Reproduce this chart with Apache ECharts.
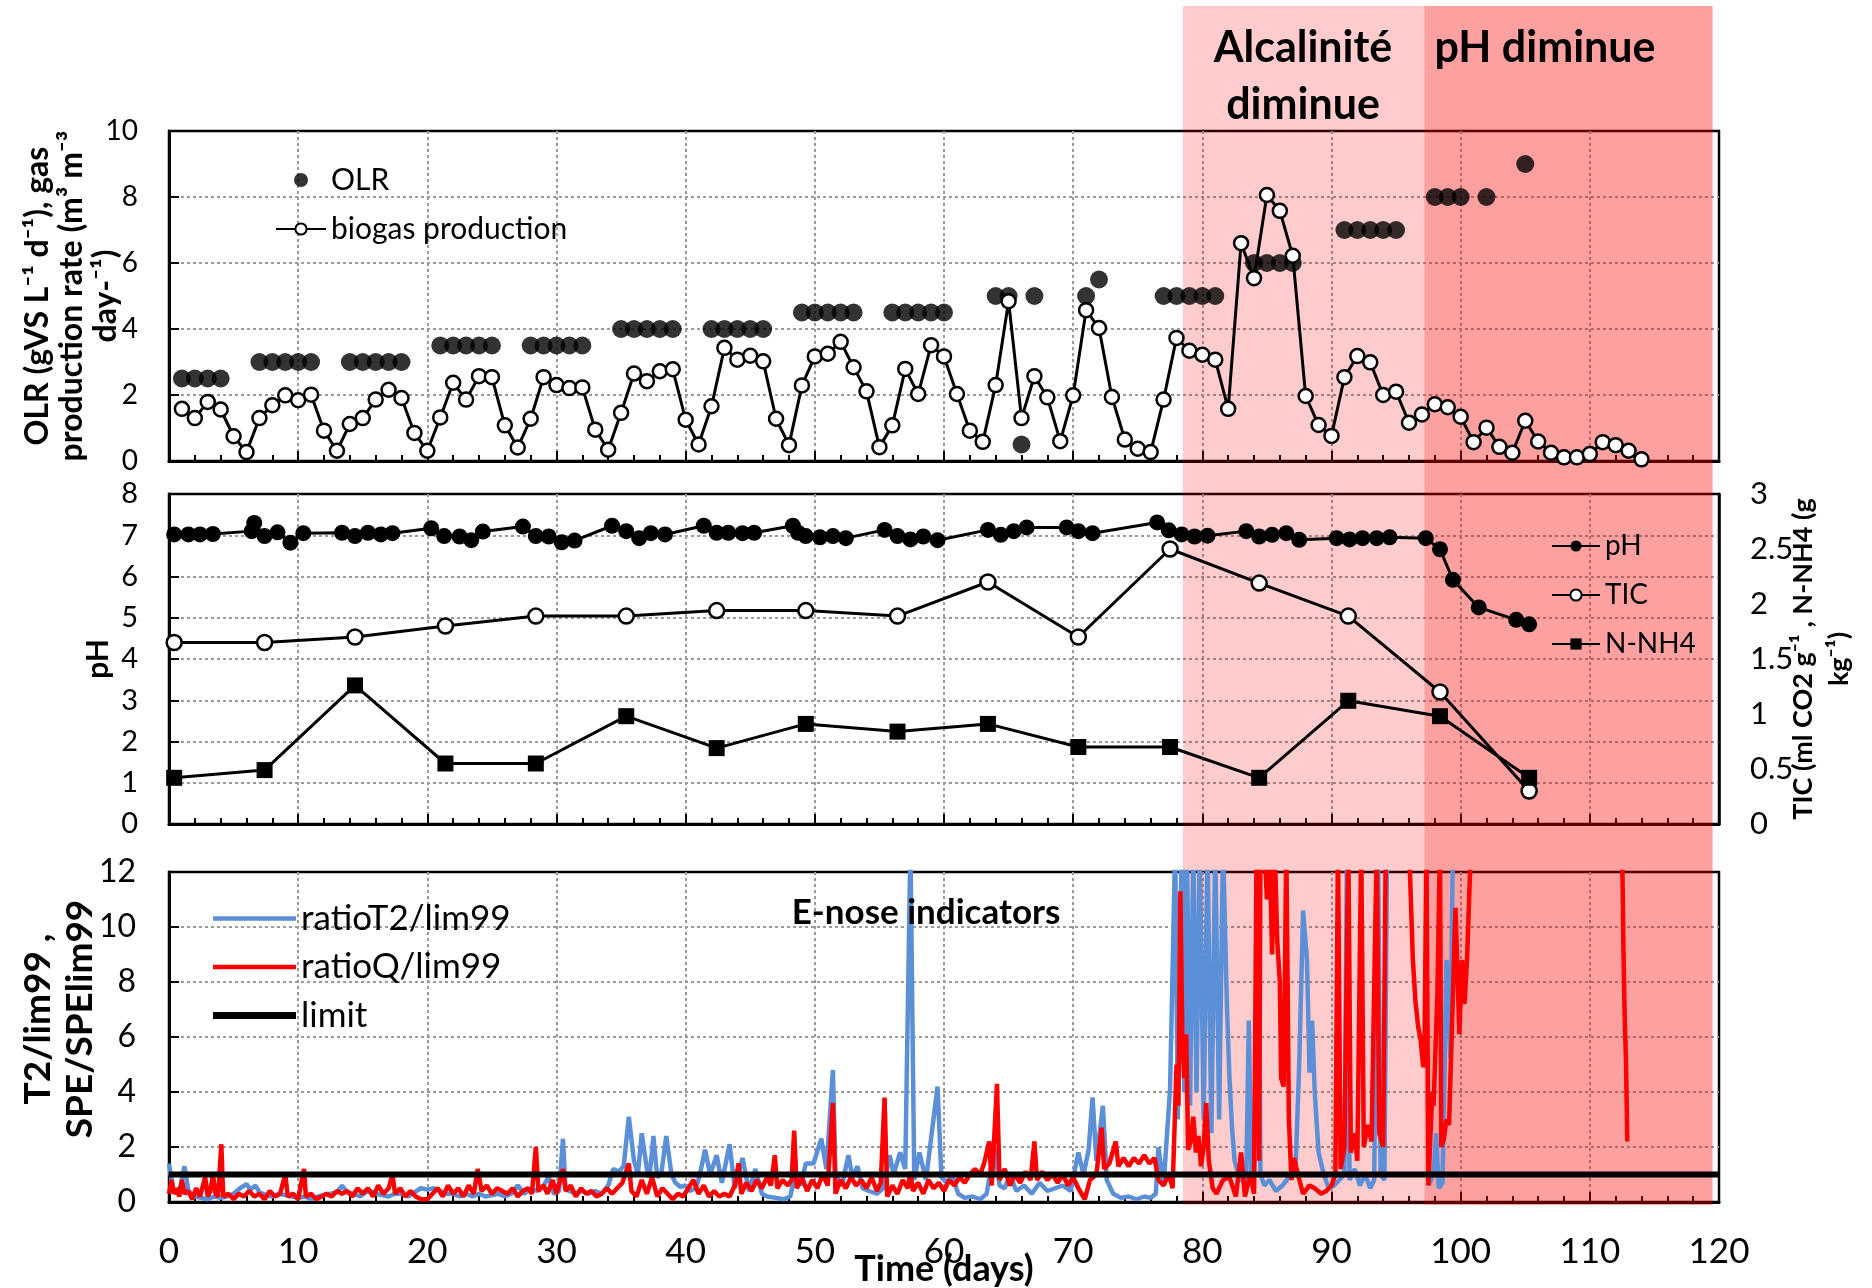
<!DOCTYPE html>
<html><head><meta charset="utf-8">
<script src="https://cdn.jsdelivr.net/npm/echarts/dist/echarts.min.js"></script>
<style>html,body{margin:0;padding:0;background:#fff}#c{width:1872px;height:1288px}</style>
</head><body><div id="c"></div>
<script>
// ---------- DATA ----------
const xTicks = [0,10,20,30,40,50,60,70,80,90,100,110,120];
const phaseBounds = [78.5, 97.2, 119.5]; // alkalinity drop start, pH drop start, end

// Panel 1 : OLR (gVS L-1 d-1)
const olrDays = [1,2,3,4, 7,8,9,10,11, 14,15,16,17,18, 21,22,23,24,25, 28,29,30,31,32,
  35,36,37,38,39, 42,43,44,45,46, 49,50,51,52,53, 56,57,58,59,60, 64,65,66,67, 71,72,
  77,78,79,80,81, 84,85,86,87, 91,92,93,94,95, 98,99,100,102, 105];
const olrValues = [2.5,2.5,2.5,2.5, 3,3,3,3,3, 3,3,3,3,3, 3.5,3.5,3.5,3.5,3.5, 3.5,3.5,3.5,3.5,3.5,
  4,4,4,4,4, 4,4,4,4,4, 4.5,4.5,4.5,4.5,4.5, 4.5,4.5,4.5,4.5,4.5, 5,5,0.5,5, 5,5.5,
  5,5,5,5,5, 6,6,6,6, 7,7,7,7,7, 8,8,8,8, 9];

// Panel 1 : biogas production rate, days 1..114
const biogasDays = Array.from({length:114}, (_, i) => i + 1);
const biogasValues = [1.58,1.30,1.79,1.56,0.75,0.27,1.30,1.69,1.99,1.84,2.01,0.92,0.31,1.12,1.30,1.86,2.16,1.91,0.85,0.31,
  1.32,2.37,1.86,2.57,2.54,1.08,0.41,1.28,2.54,2.30,2.21,2.23,0.95,0.34,1.46,2.65,2.42,2.72,2.78,1.25,
  0.50,1.66,3.43,3.07,3.19,3.02,1.28,0.48,2.29,3.17,3.25,3.61,2.84,2.11,0.42,1.08,2.79,2.03,3.51,3.17,
  2.03,0.92,0.58,2.30,4.84,1.30,2.57,1.93,0.60,1.99,4.57,4.03,1.94,0.65,0.37,0.27,1.86,3.73,3.34,3.22,
  3.07,1.58,6.60,5.54,8.06,7.58,6.22,1.97,1.09,0.76,2.54,3.18,2.99,2.00,2.10,1.16,1.41,1.72,1.63,1.34,
  0.57,1.01,0.43,0.25,1.22,0.59,0.25,0.11,0.11,0.21,0.57,0.48,0.31,0.05];

// Panel 2 : pH
const phDays = [0.4,1.5,2.4,3.4,6.4,6.6,7.4,8.4,9.4,10.4,13.4,14.4,15.4,16.4,17.3,20.3,21.3,22.5,23.4,24.3,
  27.4,28.4,29.4,30.4,31.4,34.3,35.4,36.4,37.3,38.4,41.4,42.4,43.3,44.4,45.3,48.3,48.7,49.3,50.4,51.4,52.4,
  55.4,56.4,57.4,58.4,59.5,63.4,64.4,65.4,66.4,69.5,70.4,71.5,76.5,77.4,78.4,79.4,80.4,83.4,84.4,85.4,86.5,87.5,
  90.4,91.4,92.4,93.5,94.5,97.3,98.4,99.4,101.4,104.3,105.3];
const phValues = [7.02,7.02,7.02,7.03,7.1,7.3,6.98,7.07,6.82,7.05,7.06,6.98,7.06,7.02,7.05,7.17,6.98,6.97,6.88,7.09,
  7.21,6.98,6.97,6.83,6.87,7.23,7.1,6.93,7.05,7.02,7.23,7.06,7.06,7.05,7.06,7.23,7.06,6.98,6.95,6.98,6.93,
  7.13,6.98,6.9,6.97,6.88,7.13,7.01,7.1,7.19,7.19,7.1,7.05,7.31,7.12,7.02,6.97,6.99,7.1,6.97,7.01,7.05,6.89,
  6.93,6.9,6.93,6.93,6.95,6.93,6.66,5.92,5.25,4.95,4.84];

// Panel 2 : TIC and N-NH4 (right axis)
const labDays = [0.4,7.4,14.4,21.4,28.4,35.4,42.4,49.3,56.4,63.4,70.4,77.5,84.4,91.3,98.4,105.3];
const ticValues = [1.65,1.65,1.70,1.80,1.89,1.89,1.94,1.94,1.89,2.20,1.70,2.50,2.19,1.89,1.20,0.30];
const nh4Values = [0.42,0.49,1.26,0.55,0.55,0.98,0.69,0.91,0.84,0.91,0.70,0.70,0.42,1.12,0.98,0.42];

// Panel 3 : E-nose indicators [day, value] (values above 12 run off the top of the plot)
const ratioT2 = [
[0,1.4],[0.3,0.5],[0.6,0.3],[0.9,0.6],[1.2,1.3],[1.5,0.4],[2,0.2],[2.5,0.15],[3,0.1],[3.5,0.2],[4,0.15],[4.5,0.2],[5,0.3],[5.5,0.5],[6,0.65],[6.3,0.45],[6.7,0.6],[7,0.35],[7.5,0.25],[8,0.2],[8.5,0.3],[9,0.25],[9.5,0.2],[10,0.15],[10.5,0.2],[11,0.1],[11.5,0.2],[12,0.25],[12.5,0.3],[13,0.35],[13.4,0.6],[13.8,0.35],[14.3,0.3],[14.8,0.2],[15.2,0.35],[15.6,0.4],[16,0.3],[16.5,0.25],[17,0.2],[17.5,0.3],[18,0.3],[18.5,0.2],[19,0.35],[19.5,0.5],[20,0.45],[20.5,0.5],[21,0.4],[21.5,0.3],[22,0.3],[22.5,0.2],[23,0.3],[23.5,0.2],[24,0.3],[24.5,0.2],[25,0.25],[25.5,0.3],[26,0.2],[26.5,0.3],[27,0.6],[27.5,0.3],[28,0.5],[28.5,0.4],[29,0.6],[29.4,0.9],[29.8,0.3],[30.2,0.4],[30.5,2.3],[30.7,0.5],[31,0.4],[31.5,0.3],[32,0.4],[32.5,0.3],[33,0.4],[33.5,0.3],[34,0.6],[34.4,1.2],[34.8,1.1],[35.2,1.3],[35.6,3.1],[36,1.5],[36.3,1.0],[36.6,2.5],[37,1.2],[37.2,0.9],[37.5,2.4],[37.8,0.9],[38.1,1.0],[38.5,2.4],[38.9,1.0],[39.2,0.7],[39.6,0.55],[40,0.6],[40.3,0.4],[40.8,0.5],[41.1,1.0],[41.5,1.9],[41.9,1.0],[42.4,1.7],[42.8,0.7],[43.4,2.1],[43.8,0.5],[44.4,1.6],[44.9,0.4],[45.4,1.2],[45.9,0.3],[46.3,0.2],[47,0.15],[47.6,0.1],[48.1,0.2],[48.4,0.9],[48.9,0.6],[49.3,1.4],[49.9,1.4],[50.5,2.3],[50.9,1.2],[51.4,4.8],[51.6,1.0],[52.1,0.6],[52.6,1.7],[52.9,0.9],[53.3,1.3],[53.7,0.5],[54.2,0.4],[54.8,0.3],[55.3,0.5],[55.8,1.7],[56.1,1.0],[56.6,1.8],[57,1.2],[57.4,13],[57.7,0.8],[58.1,1.8],[58.6,0.8],[59.5,4.2],[59.8,0.9],[60.2,0.7],[60.6,1.0],[61.1,0.3],[61.6,0.15],[62.2,0.2],[62.8,0.1],[63.3,0.3],[63.9,2.0],[64.3,0.6],[64.7,0.5],[65.1,1.0],[65.6,0.4],[66.2,0.6],[66.8,0.3],[67.4,0.7],[68,0.4],[68.6,0.5],[69.2,0.6],[69.8,0.4],[70.4,1.8],[70.8,1.0],[71.2,1.9],[71.5,3.8],[71.8,1.5],[72.3,3.5],[72.6,0.8],[73.1,0.3],[73.7,0.15],[74.3,0.2],[74.9,0.1],[75.5,0.2],[76,0.15],[76.4,0.3],[76.6,2.0],[77,0.6],[77.5,4.1],[77.9,13],[78.1,3],[78.4,13],[78.6,4],[78.8,13],[79.05,3.5],[79.3,13],[79.55,4],[79.8,13],[80.1,3],[80.4,13],[80.7,2.5],[81,13],[81.3,3],[81.6,13],[81.9,7.2],[82.1,4.5],[82.3,2.7],[82.5,1.5],[82.8,1.0],[83.2,0.7],[83.4,0.9],[83.6,6.6],[83.8,0.8],[84,0.5],[84.3,13],[84.5,1.0],[84.8,0.6],[85.2,0.8],[85.7,0.4],[86.2,0.6],[86.7,0.9],[87.2,1.0],[87.5,5],[87.8,10.6],[88.1,8.8],[88.3,4.7],[88.5,6.6],[88.7,4.0],[89,1.8],[89.4,1.0],[89.8,0.5],[90.2,0.6],[90.6,0.8],[91,1.0],[91.2,13],[91.4,0.8],[91.8,1.2],[92.2,0.6],[92.6,1.0],[93,0.5],[93.3,0.8],[93.6,13],[93.8,1.0],[94.1,0.8],[94.3,13],[94.4,null],
[97.5,0.6],[97.9,1.0],[98.1,2.5],[98.3,0.5],[98.6,0.7],[98.9,8.8],[99.1,7.3],[99.2,5.2],[99.4,13]
];
const ratioQ = [
[0,0.3],[0.2,0.8],[0.4,0.3],[0.6,0.5],[0.8,0.2],[1,0.8],[1.2,0.3],[1.5,0.4],[1.8,0.1],[2.1,0.5],[2.4,0.2],[2.8,0.9],[3,0.2],[3.2,0.4],[3.4,1.0],[3.6,0.3],[3.8,0.2],[4.05,2.1],[4.2,0.2],[4.6,0.3],[5,0.1],[5.4,0.3],[5.8,0.2],[6.2,0.4],[6.6,0.2],[7,0.3],[7.4,0.1],[7.8,0.4],[8.2,0.2],[8.6,0.3],[9.0,1.0],[9.2,0.2],[9.6,0.3],[10,0.1],[10.45,1.2],[10.6,0.2],[11,0.3],[11.4,0.1],[11.8,0.2],[12.2,0.3],[12.6,0.2],[13,0.4],[13.4,0.3],[13.8,0.4],[14.2,0.2],[14.6,0.5],[15,0.3],[15.4,0.5],[15.8,0.2],[16.2,0.6],[16.6,0.3],[17,0.5],[17.3,1.0],[17.5,0.3],[17.9,0.5],[18.3,0.2],[18.7,0.4],[19.1,0.2],[19.5,0.1],[20,0.1],[20.4,0.3],[20.8,0.5],[21.2,0.2],[21.6,0.6],[22,0.3],[22.4,0.5],[22.8,0.2],[23.2,0.6],[23.6,0.3],[23.9,1.2],[24.2,0.4],[24.6,0.6],[25,0.3],[25.4,0.5],[25.8,0.4],[26.2,0.3],[26.6,0.5],[27,0.2],[27.4,0.4],[27.8,0.5],[28.1,0.3],[28.4,2.0],[28.6,0.4],[29,0.6],[29.3,0.3],[29.7,0.8],[30,0.3],[30.5,1.2],[30.7,0.4],[31.1,0.6],[31.5,0.2],[31.9,0.5],[32.3,0.3],[32.7,0.4],[33.1,0.2],[33.5,0.3],[33.9,0.5],[34.3,0.3],[34.7,0.5],[35.1,0.7],[35.6,1.4],[35.8,0.4],[36.2,0.2],[36.6,0.8],[37,0.3],[37.4,0.9],[37.8,0.2],[38.2,0.5],[38.6,0.3],[39,0.1],[39.4,0.3],[39.8,0.2],[40.2,0.5],[40.6,0.8],[41,0.3],[41.4,0.6],[41.8,0.2],[42.2,0.4],[42.6,0.2],[43,0.3],[43.4,0.2],[43.8,0.6],[44.1,1.4],[44.3,0.3],[44.7,0.7],[45.1,0.4],[45.5,0.8],[45.9,0.5],[46.3,0.9],[46.6,0.6],[46.9,1.7],[47.1,0.5],[47.5,0.8],[47.9,0.6],[48.2,0.8],[48.4,2.6],[48.6,0.5],[49,0.9],[49.4,0.4],[49.8,0.8],[50.2,0.5],[50.6,1.0],[51,0.6],[51.4,3.6],[51.6,0.3],[52,0.8],[52.4,0.5],[52.8,0.9],[53.2,0.6],[53.6,0.8],[54,0.5],[54.4,0.9],[54.8,0.4],[55.1,0.7],[55.4,3.8],[55.6,0.2],[56,0.6],[56.4,0.3],[56.8,0.8],[57.2,0.5],[57.4,1.1],[57.6,0.4],[58,0.7],[58.4,0.3],[58.8,0.8],[59.2,0.5],[59.6,0.7],[60,0.4],[60.4,0.8],[60.8,0.6],[61.2,0.9],[61.6,0.7],[62,1.0],[62.4,1.2],[62.8,1.0],[63.1,1.4],[63.5,2.2],[63.7,0.6],[64.1,4.3],[64.3,0.8],[64.7,1.2],[65.1,0.6],[65.5,1.0],[65.9,0.7],[66.3,1.1],[66.7,0.8],[67,2.2],[67.2,0.8],[67.6,1.1],[68,0.8],[68.4,1.0],[68.8,0.7],[69.2,1.0],[69.6,0.6],[70,0.9],[70.4,0.5],[70.9,0.1],[71.3,0.8],[71.8,1.0],[72.2,2.7],[72.4,1.2],[72.8,1.4],[73.3,2.2],[73.5,1.3],[73.9,1.6],[74.3,1.3],[74.7,1.6],[75.1,1.4],[75.5,1.7],[75.9,1.4],[76.3,1.6],[76.6,0.8],[77,0.6],[77.4,1.0],[77.7,0.5],[78,5],[78.15,3.5],[78.3,11.3],[78.45,6],[78.6,4.5],[78.75,6.1],[78.9,1.9],[79.1,2.2],[79.3,3.1],[79.5,1.8],[79.7,2.4],[79.9,1.3],[80.1,2.0],[80.3,3.6],[80.5,1.5],[80.8,0.5],[81.1,0.3],[81.6,0.8],[82.1,0.9],[82.6,0.2],[83,1.8],[83.3,0.2],[83.7,1.0],[84,0.3],[84.2,13],[84.4,1.5],[84.5,13],[84.8,13],[85,11],[85.2,13],[85.4,9],[85.6,13],[85.8,9.5],[86,8],[86.1,4.5],[86.3,4.2],[86.5,13],[86.7,3.0],[86.9,0.8],[87.1,1.6],[87.4,1.0],[87.8,0.3],[88.3,0.6],[88.7,0.5],[89.2,0.3],[89.6,0.4],[90,0.6],[90.3,1.0],[90.5,13],[90.7,1.2],[91,2.0],[91.3,13],[91.5,1.8],[91.8,2.5],[92,1.5],[92.3,13],[92.5,2.0],[92.8,2.8],[93.1,2.2],[93.5,13],[93.7,2.5],[94,2.0],[94.2,13],[94.35,null],
[96,13],[96.3,8.8],[96.5,7.3],[96.7,6.4],[96.9,5.9],[97.1,4.9],[97.2,5.6],[97.35,13],[97.5,0.6],[97.8,4.0],[97.9,3.5],[98.2,7.6],[98.4,13],[98.5,2.0],[98.7,2.3],[98.9,3.0],[99.1,2.8],[99.6,10.7],[99.9,6.1],[100.1,8.8],[100.3,7.2],[100.5,8.9],[100.8,13],[100.9,null],
[112.5,13],[112.6,9.2],[112.7,6.7],[112.8,5.1],[112.9,2.2]
];
const limitLine = [[0,1],[120,1]];

// ---------- CHART ----------
const FONT = 'Lato, "DejaVu Sans", sans-serif';
const pair = (xs, ys) => xs.map((x, i) => [x, ys[i]]);
const L = 169, R = 153;
const gridLine = {show:true, showMinLine:false, showMaxLine:false, lineStyle:{color:'#9a9a9a', type:[3,3], width:2}};
const gridBase = {left:L, right:R, height:330, show:true, borderColor:'#000', borderWidth:2.5,
  containLabel:false, outerBoundsMode:'none'};

function xAx(gi, labels){
  return {type:'value', gridIndex:gi, min:xTicks[0], max:xTicks[xTicks.length-1], interval:10,
    axisLine:{show:true, onZero:false, lineStyle:{color:'#000', width:3}},
    axisTick:{show:true, inside:true, length:10, lineStyle:{color:'#000', width:2}},
    minorTick:{show:true, splitNumber:5, length:6, lineStyle:{color:'#000', width:2}},
    splitLine:gridLine,
    axisLabel:{show:labels, color:'#000', fontSize:35, fontFamily:FONT, margin:32},
    name: labels ? 'Time (days)' : '', nameLocation:'middle', nameGap:49, nameMoveOverlap:false,
    nameTextStyle:{color:'#000', fontSize:36, fontWeight:'bold', fontFamily:FONT}
  };
}
function yAx(gi, min, max, interval, name, nameGap, nameSize, lh, labelSize, margin, pad){
  return {type:'value', gridIndex:gi, min, max, interval,
    axisLine:{show:true, lineStyle:{color:'#000', width:3}},
    axisTick:{show:true, inside:true, length:10, lineStyle:{color:'#000', width:2}},
    splitLine:gridLine,
    axisLabel:{color:'#000', fontSize:labelSize, fontFamily:FONT, margin},
    name, nameLocation:'middle', nameGap, nameMoveOverlap:false,
    nameTextStyle:{color:'#000', fontSize:nameSize, fontWeight:'bold', fontFamily:FONT, lineHeight:lh, padding:pad || 0}
  };
}

const chart = echarts.init(document.getElementById('c'), null, {renderer:'canvas'});
const option = {
  animation:false,
  backgroundColor:'#fff',
  textStyle:{fontFamily:FONT},
  grid:[
    Object.assign({top:131}, gridBase),
    Object.assign({top:494}, gridBase),
    Object.assign({top:872}, gridBase),
    {left:L, right:R, top:6, bottom:83, containLabel:false, outerBoundsMode:'none'}
  ],
  xAxis:[xAx(0,false), xAx(1,false), xAx(2,true),
    {type:'value', gridIndex:3, min:0, max:120, show:false}],
  yAxis:[
    yAx(0,0,10,2,'OLR (gVS L\u207B\u00B9 d\u207B\u00B9), gas\nproduction rate (m\u00B3 m\u207B\u00B3\nday-\u207B\u00B9)',46,32,34,28,31),
    yAx(1,0,8,1,'pH',54,30,34,29,31),
    Object.assign(yAx(1,0,3,0.5,'TIC (ml CO2 g\u207B\u00B9 , N-NH4 (g\nkg\u207B\u00B9)',66,27,36,31,31),
      {position:'right', splitLine:{show:false}, axisTick:{show:false}, axisLine:{show:true, lineStyle:{color:'#000', width:2.5}}}),
    yAx(2,0,12,2,'T2/lim99 ,\nSPE/SPElim99',68,37,42,32,33,[0,0,0,36]),
    {type:'value', gridIndex:3, min:0, max:1, show:false}
  ],
  legend:[
    {orient:'vertical', left:270, top:160, itemWidth:50, itemHeight:14, itemGap:19, z:3,
      textStyle:{color:'#000', fontSize:30, fontFamily:FONT}, data:['OLR','biogas production']},
    {orient:'vertical', left:1546, top:527, itemWidth:48, itemHeight:14, itemGap:21, z:3,
      textStyle:{color:'#000', fontSize:28, fontFamily:FONT}, data:['pH','TIC','N-NH4']},
    {orient:'vertical', left:208, top:896, itemWidth:83, itemHeight:4.5, itemGap:13.5, z:3,
      textStyle:{color:'#000', fontSize:35, fontFamily:FONT},
      data:[{name:'ratioT2/lim99', icon:'rect'},{name:'ratioQ/lim99', icon:'rect'}]},
    {orient:'vertical', left:208, top:993, itemWidth:83, itemHeight:7, z:3,
      textStyle:{color:'#000', fontSize:35, fontFamily:FONT},
      data:[{name:'limit', icon:'rect'}]}
  ],
  series:[
    {name:'OLR', type:'scatter', xAxisIndex:0, yAxisIndex:0, z:2, symbol:'circle', symbolSize:18,
      itemStyle:{color:'#000'}, data:pair(olrDays, olrValues)},
    {name:'biogas production', type:'line', xAxisIndex:0, yAxisIndex:0, z:3, symbol:'circle', symbolSize:14,
      itemStyle:{color:'#fff', borderColor:'#000', borderWidth:2.5}, lineStyle:{color:'#000', width:3},
      data:pair(biogasDays, biogasValues)},
    {name:'pH', type:'line', xAxisIndex:1, yAxisIndex:1, z:3, symbol:'circle', symbolSize:16,
      itemStyle:{color:'#000'}, lineStyle:{color:'#000', width:3}, data:pair(phDays, phValues)},
    {name:'TIC', type:'line', xAxisIndex:1, yAxisIndex:2, z:3, symbol:'circle', symbolSize:15,
      itemStyle:{color:'#fff', borderColor:'#000', borderWidth:2.5}, lineStyle:{color:'#000', width:3},
      data:pair(labDays, ticValues)},
    {name:'N-NH4', type:'line', xAxisIndex:1, yAxisIndex:2, z:3, symbol:'rect', symbolSize:16,
      itemStyle:{color:'#000'}, lineStyle:{color:'#000', width:3}, data:pair(labDays, nh4Values)},
    {name:'phases', type:'line', xAxisIndex:3, yAxisIndex:4, z:8, symbol:'none', silent:true,
      lineStyle:{opacity:0}, data:[[0,-1]],
      markArea:{silent:true, data:[
        [{xAxis:phaseBounds[0], itemStyle:{color:'rgba(250,0,0,0.2)'}},{xAxis:phaseBounds[2]}],
        [{xAxis:phaseBounds[1], itemStyle:{color:'rgba(250,0,0,0.21)'}},{xAxis:phaseBounds[2]}]
      ]}},
    {name:'ratioT2/lim99', type:'line', xAxisIndex:2, yAxisIndex:3, z:9, symbol:'none',
      itemStyle:{color:'#5b8fd7'}, lineStyle:{color:'#5b8fd7', width:4.5}, data:ratioT2},
    {name:'ratioQ/lim99', type:'line', xAxisIndex:2, yAxisIndex:3, z:9, symbol:'none',
      itemStyle:{color:'#ff0000'}, lineStyle:{color:'#ff0000', width:4.5}, data:ratioQ},
    {name:'limit', type:'line', xAxisIndex:2, yAxisIndex:3, z:9, symbol:'none',
      itemStyle:{color:'#000'}, lineStyle:{color:'#000', width:6}, data:limitLine}
  ],
  graphic:[
    {type:'text', x:1303, y:48, z:20, style:{text:'Alcalinité', font:'bold 43px '+FONT, fill:'#000', textAlign:'center', textVerticalAlign:'middle'}},
    {type:'text', x:1303, y:105, z:20, style:{text:'diminue', font:'bold 43px '+FONT, fill:'#000', textAlign:'center', textVerticalAlign:'middle'}},
    {type:'text', x:1545, y:48, z:20, style:{text:'pH diminue', font:'bold 43px '+FONT, fill:'#000', textAlign:'center', textVerticalAlign:'middle'}},
    {type:'text', x:926, y:913, z:20, style:{text:'E-nose indicators', font:'bold 35px '+FONT, fill:'#000', textAlign:'center', textVerticalAlign:'middle'}}
  ]
};
chart.setOption(option);
</script>
</body></html>
